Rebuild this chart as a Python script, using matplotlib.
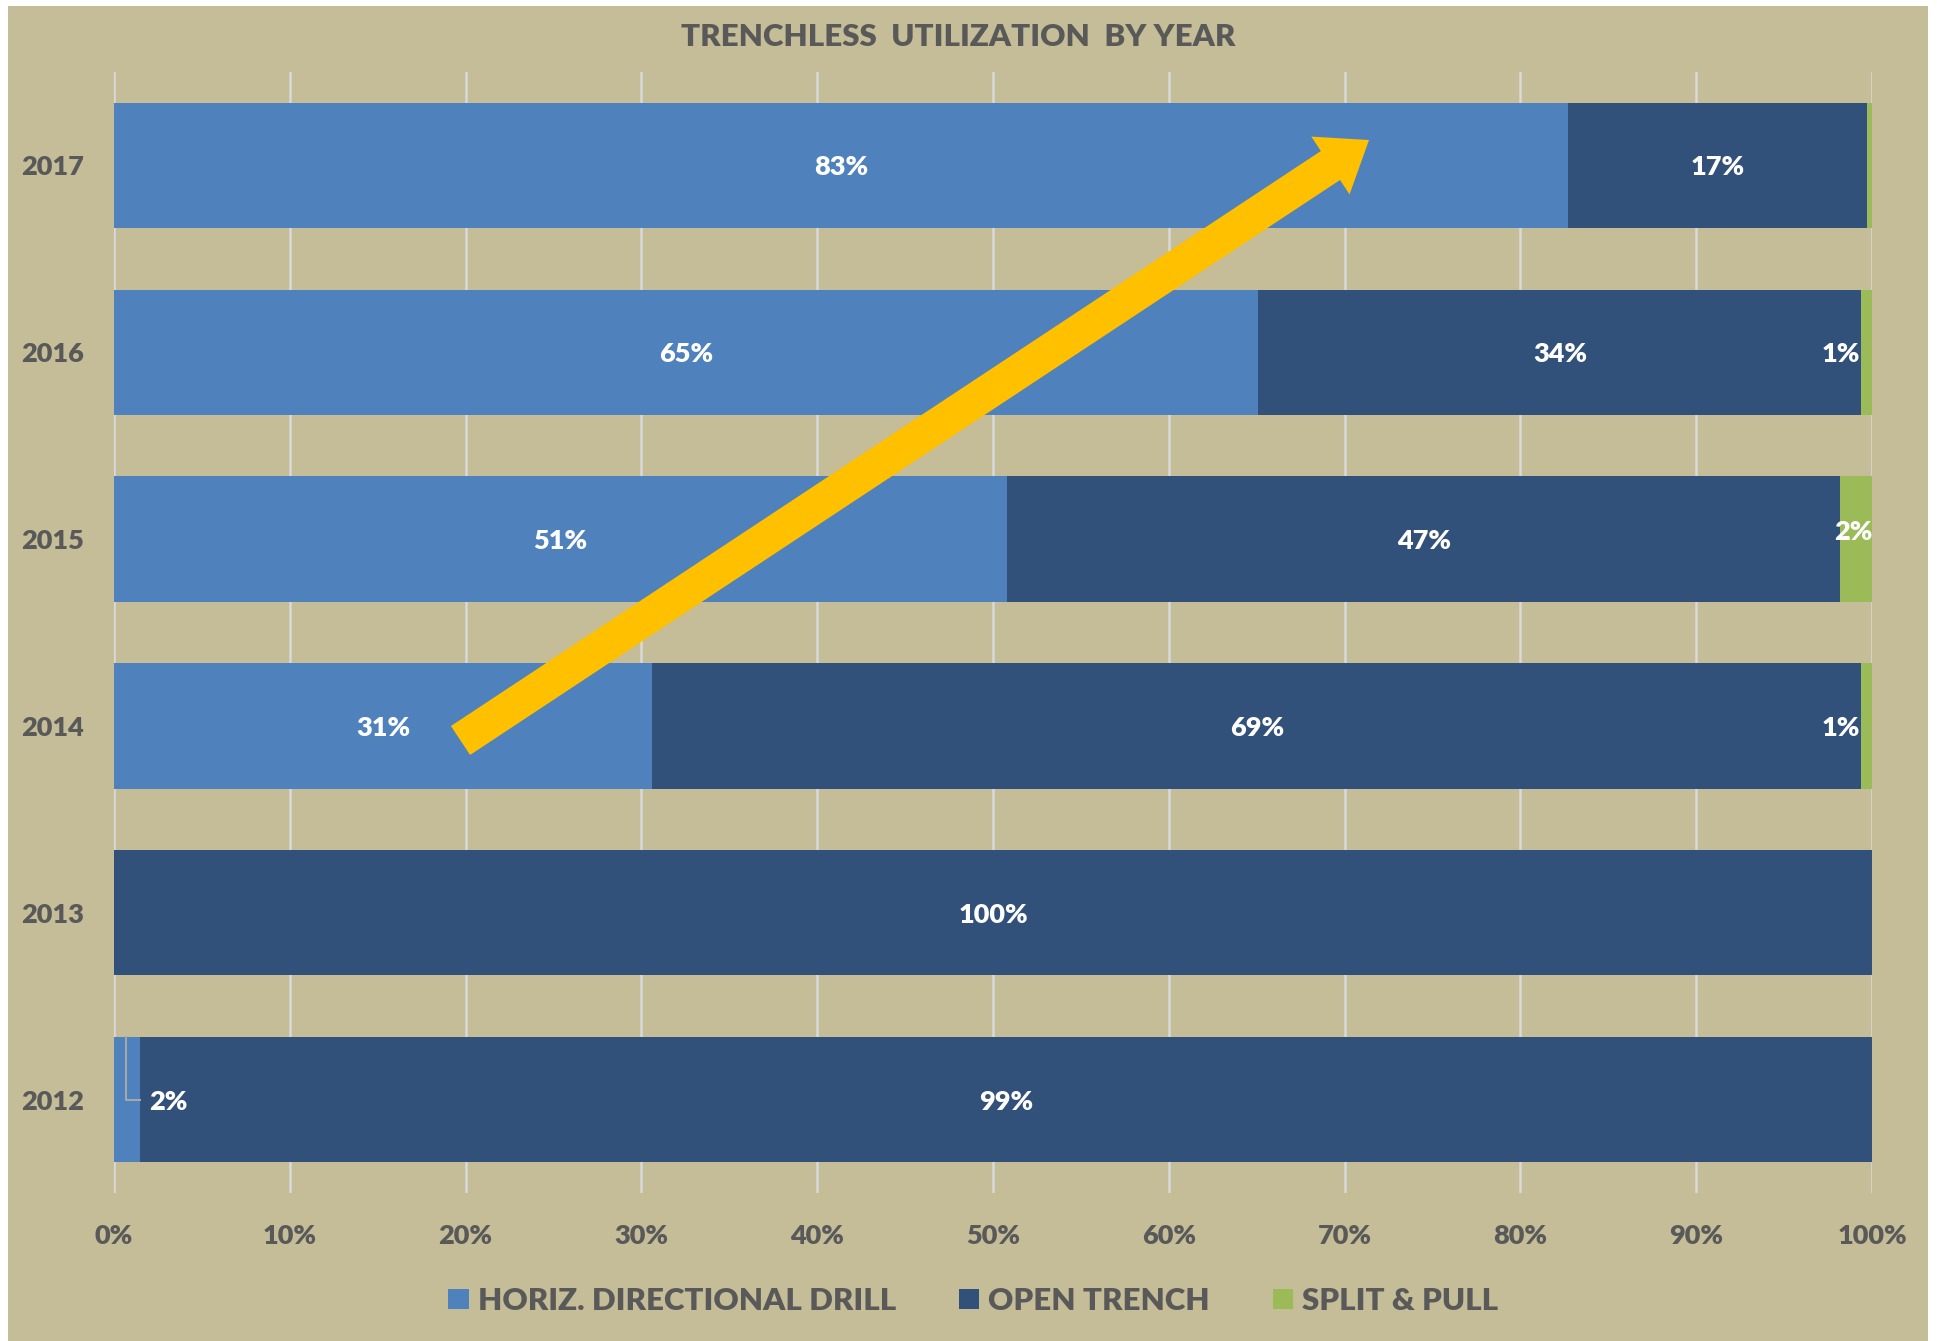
import matplotlib
matplotlib.use("Agg")
import math
import matplotlib.pyplot as plt
from matplotlib.patches import Rectangle

plt.rcParams['font.family'] = ['Lato', 'DejaVu Sans']
plt.rcParams['font.weight'] = 'heavy'

# share of work by method, percent of each year
years = ['2012', '2013', '2014', '2015', '2016', '2017']
hdd = [1.5, 0.0, 30.6, 50.8, 65.1, 82.7]
open_trench = [98.5, 100.0, 68.8, 47.4, 34.3, 17.0]
split_pull = [0.0, 0.0, 0.6, 1.8, 0.6, 0.3]
series_names = ['HORIZ. DIRECTIONAL DRILL', 'OPEN TRENCH', 'SPLIT & PULL']
xticks = [0, 10, 20, 30, 40, 50, 60, 70, 80, 90, 100]

TAN = '#C4BD97'
GREY = '#595959'
colors = ['#4F81BD', '#31507A', '#9BBB59']
LBL = 19.5

W, H = 1937, 1341
fig = plt.figure(figsize=(W / 100, H / 100), dpi=100)
fig.patch.set_facecolor('white')
fig.add_artist(Rectangle((8 / W, 0), 1920 / W, 1 - 6 / H, transform=fig.transFigure,
                         facecolor=TAN, edgecolor='none', zorder=-10))

ax = fig.add_axes([114 / W, 1 - 1193 / H, 1758 / W, 1121 / H])
ax.patch.set_alpha(0)

def pct(v):
    return '%d%%' % math.floor(v + 0.5)

ypos = list(range(len(years)))
left = [0.0] * len(years)
handles = []
for k, vals in enumerate([hdd, open_trench, split_pull]):
    b = ax.barh(ypos, vals, left=left, height=0.67, color=colors[k], zorder=3)
    handles.append(b)
    for i, v in enumerate(vals):
        if v < 0.5:
            continue
        if k == 0 and v < 3:
            # tiny slice: label outside with a leader line
            x0 = left[i] + v / 2
            ax.plot([x0 - 0.05, x0 - 0.05, left[i] + v], [i + 0.335, i, i],
                    color='#A6A6A6', lw=1.5, zorder=4)
            ax.text(left[i] + v + 0.5, i, pct(v), color='white', fontsize=LBL,
                    ha='left', va='center_baseline', zorder=6)
        elif k == 2 and v < 1.5:
            ax.text(left[i] - 0.1, i, pct(v), color='white', fontsize=LBL,
                    ha='right', va='center_baseline', zorder=6)
        elif k == 2:
            ax.text(100, i + 0.05, pct(v), color='white', fontsize=LBL,
                    ha='right', va='center_baseline', zorder=6)
        else:
            ax.text(left[i] + v / 2, i, pct(v), color='white', fontsize=LBL,
                    ha='center', va='center_baseline', zorder=6)
    left = [a + b_ for a, b_ in zip(left, vals)]

ax.set_xlim(0, 100)
ax.set_ylim(-0.5, len(years) - 0.5)
ax.set_xticks(xticks)
ax.set_xticklabels(['%d%%' % t for t in xticks])
ax.set_yticks(ypos)
ax.set_yticklabels(years)
ax.tick_params(axis='both', length=0, labelsize=19.5, labelcolor=GREY)
ax.tick_params(axis='x', pad=22)
ax.tick_params(axis='y', pad=21.5)
ax.grid(axis='x', color='#D9D9D9', lw=1.8, zorder=0)
for s in ax.spines.values():
    s.set_visible(False)

# trend arrow
ax.annotate('', xy=(71.39, 5.136), xytext=(19.71, 1.922),
            arrowprops=dict(arrowstyle='simple,head_length=33.3,head_width=49.9,tail_width=25',
                            fc='#FFC000', ec='none', shrinkA=0, shrinkB=0, mutation_scale=1),
            zorder=5)

fig.text(0.4946, 1 - 36.5 / H, 'TRENCHLESS  UTILIZATION  BY YEAR', ha='center', va='center',
         fontsize=22.5, color=GREY)

fig.legend(handles, series_names, loc='center', bbox_to_anchor=(0.5025, 1 - 1301 / H),
           ncol=3, frameon=False, fontsize=22.5, labelcolor=GREY,
           handlelength=0.65, handleheight=0.65, handletextpad=0.3, columnspacing=2.0)

fig.savefig('out.png', dpi=100, facecolor=fig.get_facecolor())
